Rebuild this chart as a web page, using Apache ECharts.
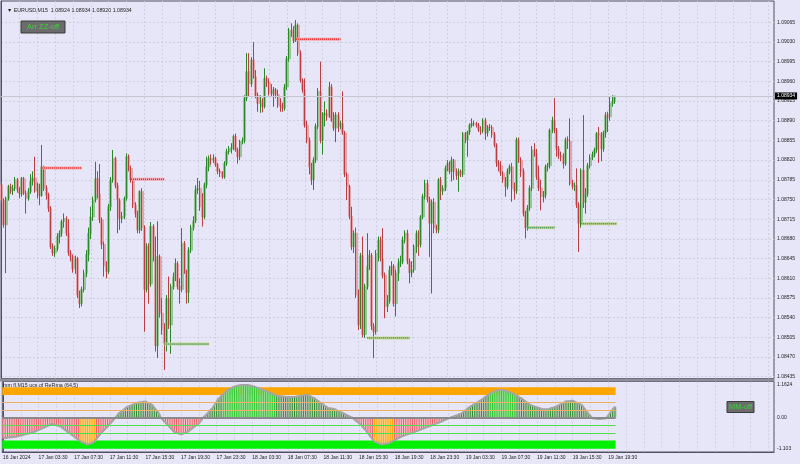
<!DOCTYPE html>
<html><head><meta charset="utf-8">
<script src="https://cdn.jsdelivr.net/npm/echarts@6/dist/echarts.min.js"></script>
<style>html,body{margin:0;padding:0;background:#e6e6f8}#c{width:800px;height:464px}</style>
</head><body><div id="c"></div><script>
// prices stored in points (0.00001) above BASE; rows = [open, high, low, close]
const BASE = 1.08;
const ohlcPts = [
[776,780,745,749],[749,752,700,705],[705,755,619,752],[752,776,748,773],[773,778,760,765],[765,776,758,770],[770,790,765,785],[785,788,762,767],[767,772,752,760],[760,790,755,787],
[787,790,758,761],[761,766,725,752],[752,770,748,764],[764,795,760,782],[782,800,775,788],[788,826,762,765],[765,780,752,776],[776,778,740,757],[757,847,755,808],[808,810,765,770],
[770,775,750,758],[758,762,728,734],[734,738,662,666],[666,672,650,655],[655,668,648,663],[663,690,658,684],[684,695,672,690],[690,714,684,711],[711,725,700,716],[716,720,685,690],
[690,715,650,655],[655,660,640,648],[648,652,620,627],[627,650,618,645],[645,648,575,580],[580,588,557,565],[565,595,560,590],[590,625,585,619],[619,660,612,652],[652,700,640,690],
[690,737,680,719],[719,755,712,749],[749,817,745,787],[787,800,752,760],[760,813,708,714],[714,718,662,670],[670,675,613,632],[632,640,610,622],[622,742,618,737],[737,790,730,785],
[785,838,780,823],[823,826,770,775],[775,780,690,749],[749,752,696,716],[716,728,708,720],[720,755,715,752],[752,832,748,826],[826,830,800,805],[805,810,780,785],[785,788,735,740],
[740,745,718,725],[725,730,690,696],[696,766,690,764],[764,770,694,700],[700,704,515,590],[590,672,585,666],[666,672,565,600],[600,710,595,702],[702,706,640,648],[648,684,480,490],
[490,711,468,648],[648,652,540,548],[548,575,510,520],[520,530,447,494],[494,580,480,574],[574,613,520,527],[527,600,476,595],[595,620,590,612],[612,645,605,636],[636,640,590,595],
[595,610,565,590],[590,699,585,672],[672,676,618,622],[622,625,565,585],[585,665,566,660],[660,705,655,700],[700,720,695,712],[712,775,708,767],[767,788,760,770],[770,783,730,737],
[737,761,702,719],[719,780,715,776],[776,826,770,808],[808,828,800,823],[823,830,812,820],[820,830,815,823],[823,826,808,812],[812,815,795,800],[800,805,790,797],[797,800,787,790],
[790,818,787,814],[814,840,810,835],[835,845,830,840],[840,850,832,842],[842,865,838,862],[862,867,835,838],[838,842,814,826],[826,856,820,853],[853,860,848,855],[855,935,850,930],
[930,1010,925,977],[977,1010,933,956],[956,1003,950,998],[998,1030,965,968],[968,980,930,935],[935,940,906,921],[921,935,904,925],[925,930,905,915],[915,983,912,965],[965,970,950,958],
[958,965,935,940],[940,955,932,938],[938,950,915,945],[945,948,930,936],[936,945,913,918],[918,930,906,915],[915,922,906,912],[912,955,908,950],[950,1005,945,1000],[1000,1055,995,1051],
[1051,1063,1039,1050],[1050,1058,1028,1032],[1032,1069,1030,1060],[1060,1063,1005,1010],[1010,1015,958,962],[962,965,940,945],[945,965,878,882],[882,890,850,855],[855,860,795,808],[808,815,776,785],
[785,825,767,820],[820,885,815,880],[880,948,875,942],[942,995,850,855],[855,905,830,900],[900,924,880,903],[903,910,890,898],[898,959,895,950],[950,955,888,891],[891,905,872,877],
[877,905,852,900],[900,905,870,880],[880,890,875,885],[885,942,865,868],[868,872,790,795],[795,798,749,773],[773,776,715,720],[720,737,660,666],[666,695,655,690],[690,700,575,580],
[580,590,518,527],[527,655,520,650],[650,684,505,510],[510,600,504,595],[595,690,590,631],[631,660,625,651],[651,655,518,525],[525,530,468,515],[515,660,510,654],[654,684,640,678],
[678,684,640,645],[645,699,610,615],[615,620,539,560],[560,580,550,570],[570,632,565,625],[625,640,615,631],[631,635,560,565],[565,625,542,619],[619,645,605,637],[637,650,630,640],
[640,684,635,678],[678,695,672,690],[690,696,635,640],[640,645,601,620],[620,640,612,625],[625,670,620,666],[666,695,655,690],[690,695,650,670],[670,722,665,719],[719,760,715,755],
[755,785,750,778],[778,785,745,750],[750,755,648,708],[708,750,583,745],[745,752,690,700],[700,705,690,696],[696,788,690,785],[785,790,749,765],[765,775,758,770],[770,810,765,805],
[805,820,800,814],[814,818,795,800],[800,826,782,820],[820,822,785,800],[800,805,785,793],[793,805,764,800],[800,803,790,795],[795,870,790,867],[867,870,850,856],[856,872,826,870],
[870,885,865,882],[882,894,878,885],[885,890,880,884],[884,888,878,882],[882,886,870,874],[874,880,865,872],[872,894,868,891],[891,895,856,868],[868,882,862,879],[879,884,872,878],
[878,882,860,865],[865,870,843,847],[847,850,808,815],[815,820,800,810],[810,818,792,797],[797,800,780,785],[785,790,755,773],[773,805,768,800],[800,812,795,808],[808,815,746,770],
[770,780,750,765],[765,860,760,856],[856,860,815,820],[820,825,790,800],[800,805,720,725],[725,730,681,700],[700,740,695,735],[735,775,730,770],[770,845,765,838],[838,850,826,832],
[832,840,785,790],[790,810,765,770],[770,785,731,755],[755,765,745,758],[758,812,752,808],[808,815,800,810],[810,876,805,873],[873,897,868,891],[891,930,868,873],[873,877,826,840],
[840,845,822,828],[828,835,818,826],[826,832,805,814],[814,860,810,856],[856,862,840,854],[854,894,775,779],[779,785,768,773],[773,780,765,775],[775,805,735,740],[740,745,657,708],
[708,805,700,802],[802,900,735,745],[745,770,725,760],[760,815,755,810],[810,830,805,825],[825,835,820,830],[830,842,825,838],[838,870,833,867],[867,879,815,865],[865,870,818,840],
[840,872,835,868],[868,905,860,900],[900,906,870,897],[897,933,890,921],[921,935,915,924],[924,934,920,934]
];
const lastClose = 1.08934;

// oscillator values, one per bar
const indicator = [
-0.73,-0.72,-0.71,-0.70,-0.69,-0.68,-0.67,-0.65,-0.63,-0.61,-0.59,-0.57,-0.55,-0.53,-0.50,
-0.47,-0.43,-0.40,-0.36,-0.33,-0.29,-0.26,-0.22,-0.23,-0.26,-0.29,-0.32,-0.38,-0.44,-0.50,-0.55,-0.61,
-0.67,-0.73,-0.79,-0.85,-0.88,-0.91,-0.94,-0.92,-0.89,-0.85,-0.75,-0.65,-0.55,-0.47,-0.39,-0.31,-0.22,-0.14,
-0.04,0.05,0.15,0.21,0.27,0.33,0.39,0.42,0.45,0.48,0.51,0.54,0.55,0.56,0.57,0.53,0.49,0.45,
0.35,0.25,0.15,0.00,-0.09,-0.17,-0.26,-0.34,-0.42,-0.50,-0.53,-0.56,-0.59,-0.56,-0.53,-0.50,
-0.44,-0.38,-0.32,-0.26,-0.20,-0.10,0.00,0.08,0.16,0.25,0.33,0.45,0.56,0.68,0.76,0.83,0.91,0.98,
1.02,1.06,1.10,1.12,1.14,1.16,1.16,1.16,1.16,1.14,1.12,1.10,1.07,1.04,1.01,0.98,0.95,0.92,
0.88,0.85,0.81,0.78,0.77,0.76,0.75,0.74,0.73,0.73,0.73,0.73,0.75,0.76,0.78,0.79,0.80,0.80,
0.76,0.72,0.68,0.62,0.57,0.51,0.46,0.40,0.35,0.33,0.32,0.30,0.26,0.22,0.19,0.15,0.11,0.07,0.03,0.00,
-0.07,-0.13,-0.20,-0.26,-0.36,-0.45,-0.55,-0.65,-0.75,-0.85,-0.88,-0.91,-0.94,-0.93,-0.92,-0.91,
-0.87,-0.83,-0.79,-0.75,-0.71,-0.67,-0.64,-0.61,-0.58,-0.56,-0.53,-0.50,-0.47,-0.44,-0.41,-0.38,-0.35,-0.32,
-0.29,-0.26,-0.23,-0.20,-0.17,-0.14,-0.10,-0.07,-0.03,0.00,0.03,0.06,0.09,0.12,0.15,
0.21,0.27,0.33,0.39,0.44,0.49,0.53,0.58,0.63,0.69,0.75,0.80,0.86,0.89,0.93,0.96,0.97,0.98,
0.97,0.95,0.92,0.90,0.86,0.81,0.77,0.72,0.68,0.62,0.56,0.51,0.45,0.42,0.39,0.36,0.34,0.31,
0.30,0.30,0.30,0.33,0.35,0.38,0.41,0.45,0.49,0.53,0.57,0.58,0.59,0.60,0.56,0.52,0.49,0.45,
0.35,0.25,0.15,0.06,-0.02,-0.03,-0.04,-0.05,-0.04,-0.03,-0.02,0.08,0.19,0.29,0.39
];

// zigzag markers: [fromBar, toBar, pricePts]
const zzHigh = [[18,36,806],[58,73,786],[132,152,1035]];
const zzLow  = [[73,93,493],[164,183,504],[236,248,700],[260,276,707]];

// oscillator levels
const bandTop = [0.80, 1.08];
const bandBottom = [-1.10, -0.81];
const upperLines = [0.545, 0.26];
const lowerLines = [-0.28, -0.55];

// tick labels
const xTickIdx = [0,16,32,48,64,80,96,112,128,144,160,176,192,208,224,240,256,272];
const xTickLabels = ['16 Jan 2024','17 Jan 03:30','17 Jan 07:30','17 Jan 11:30','17 Jan 15:30','17 Jan 19:30','17 Jan 23:30','18 Jan 03:30','18 Jan 07:30','18 Jan 11:30','18 Jan 15:30','18 Jan 19:30','18 Jan 23:30','19 Jan 03:30','19 Jan 07:30','19 Jan 11:30','19 Jan 15:30','19 Jan 19:30'];
const yTickPrices = [1.08435,1.08470,1.08505,1.08540,1.08575,1.08610,1.08645,1.08680,1.08715,1.08750,1.08785,1.08820,1.08855,1.08890,1.08925,1.08960,1.08995,1.09030,1.09065];
const indTickValues = [1.1624, 0, -1.103];
const indTickLabels = ['1.1624', '0.00', '-1.103'];

const gridTicks = [];
for (let k = 0; k <= 43; k++) gridTicks.push(8 * k);

const XMIN = -0.314, XMAX = 346.48;
const LAST = ohlcPts.length - 1;
const AXIS = '#505060', GRIDC = '#cfcfdf', TXT = '#1e1e1e';
const FONT = 'Liberation Sans';

const candleData = ohlcPts.map((r, i) => [i, BASE + r[0] / 1e5, BASE + r[3] / 1e5, BASE + r[2] / 1e5, BASE + r[1] / 1e5]);

const series = [];
// soft halo layer
series.push({
  type: 'candlestick', xAxisIndex: 0, yAxisIndex: 0, z: 2, silent: true,
  encode: { x: 0, y: [1, 2, 3, 4] }, data: candleData, barWidth: 2.6,
  itemStyle: { color: '#98c498', color0: '#e4a4ac', borderColor: '#98c498', borderColor0: '#e4a4ac', borderWidth: 1 }
});
series.push({
  type: 'candlestick', xAxisIndex: 0, yAxisIndex: 0, z: 3, silent: true,
  encode: { x: 0, y: [1, 2, 3, 4] }, data: candleData, barWidth: 1.2,
  itemStyle: { color: '#0e780e', color0: '#b0242a', borderColor: '#0e780e', borderColor0: '#b0242a', borderWidth: 0.8 }
});
// current price line
series.push({
  type: 'line', xAxisIndex: 0, yAxisIndex: 0, z: 1, data: [], silent: true,
  markLine: {
    silent: true, symbol: 'none', animation: false,
    lineStyle: { color: '#c6c6d0', width: 1, type: 'solid' },
    label: { show: true, position: 'end', formatter: lastClose.toFixed(5), backgroundColor: '#000', color: '#fff', fontSize: 5, fontFamily: FONT, padding: [1, 2, 1, 2], distance: 1 },
    data: [[{ coord: [XMIN, lastClose] }, { coord: [XMAX, lastClose] }]]
  }
});
zzHigh.forEach(z => {
  const d = [[z[0], BASE + z[2] / 1e5], [z[1], BASE + z[2] / 1e5]];
  series.push({ type: 'line', xAxisIndex: 0, yAxisIndex: 0, z: 4, data: d, symbol: 'none', silent: true, lineStyle: { color: '#f4a6b0', width: 3 } });
  series.push({ type: 'line', xAxisIndex: 0, yAxisIndex: 0, z: 5, data: d, symbol: 'none', silent: true, lineStyle: { color: '#e42a2a', width: 1.5, type: [1, 1] } });
});
zzLow.forEach(z => {
  const d = [[z[0], BASE + z[2] / 1e5], [z[1], BASE + z[2] / 1e5]];
  series.push({ type: 'line', xAxisIndex: 0, yAxisIndex: 0, z: 4, data: d, symbol: 'none', silent: true, lineStyle: { color: '#c8d890', width: 3 } });
  series.push({ type: 'line', xAxisIndex: 0, yAxisIndex: 0, z: 5, data: d, symbol: 'none', silent: true, lineStyle: { color: '#2a8a5a', width: 1.5, type: [1, 1] } });
});

// oscillator levels
const xEnd = LAST + 0.3;
series.push({
  type: 'line', xAxisIndex: 1, yAxisIndex: 1, z: 1, data: [], silent: true,
  markArea: { silent: true, data: [
    [{ coord: [XMIN, bandTop[0]], itemStyle: { color: '#ffa500' } }, { coord: [xEnd, bandTop[1]] }],
    [{ coord: [XMIN, bandBottom[0]], itemStyle: { color: '#00f000' } }, { coord: [xEnd, bandBottom[1]] }]
  ] },
  markLine: { silent: true, symbol: 'none', label: { show: false }, data: [
    [{ coord: [XMIN, upperLines[0]], lineStyle: { color: '#f0b060', width: 1, type: 'solid' } }, { coord: [xEnd, upperLines[0]] }],
    [{ coord: [XMIN, upperLines[1]], lineStyle: { color: '#f0b060', width: 1, type: 'solid' } }, { coord: [xEnd, upperLines[1]] }],
    [{ coord: [XMIN, lowerLines[0]], lineStyle: { color: '#50e050', width: 1, type: 'solid' } }, { coord: [xEnd, lowerLines[0]] }],
    [{ coord: [XMIN, lowerLines[1]], lineStyle: { color: '#50e050', width: 1, type: 'solid' } }, { coord: [xEnd, lowerLines[1]] }]
  ] }
});
const lightCol = v => v > 0.8 ? '#90e090' : v >= 0 ? '#c2cac2' : v >= -0.8 ? '#f6c4cc' : '#ffcf80';
const darkCol = v => v > 0.8 ? '#30c830' : v >= 0 ? '#2a8a2a' : v >= -0.8 ? '#e85a66' : '#ffa500';
const indData = indicator.map((v, i) => [i, v]);
series.push({ type: 'bar', xAxisIndex: 1, yAxisIndex: 1, z: 2, data: indData, barWidth: 2.2, barGap: '-100%', silent: true,
  itemStyle: { color: p => lightCol(p.value[1]) } });
series.push({ type: 'bar', xAxisIndex: 1, yAxisIndex: 1, z: 3, data: indData, barWidth: 1, barGap: '-100%', silent: true,
  itemStyle: { color: p => darkCol(p.value[1]) } });
series.push({ type: 'line', xAxisIndex: 1, yAxisIndex: 1, z: 4, data: indData, smooth: true, symbol: 'none', silent: true,
  lineStyle: { color: '#a4a4a4', width: 2 },
  markLine: { silent: true, symbol: 'none', label: { show: false }, data: [
    [{ coord: [XMIN, 0], lineStyle: { color: '#8a8a8a', width: 2, type: 'solid' } }, { coord: [xEnd, 0] }]
  ] } });

const option = {
  animation: false,
  backgroundColor: '#e6e6f8',
  title: { text: '\u25BC EURUSD,M15  1.08924 1.08934 1.08920 1.08934', left: 2, top: 3,
    textStyle: { fontSize: 5.3, fontWeight: 'normal', color: TXT, fontFamily: FONT } },
  grid: [
    { left: 1, right: 26, top: 1, height: 377.5, show: true, borderColor: AXIS, borderWidth: 1, backgroundColor: 'transparent' },
    { left: 1, right: 26, top: 381.5, height: 70.5, show: true, borderColor: AXIS, borderWidth: 1, backgroundColor: 'transparent' }
  ],
  xAxis: [
    { type: 'value', gridIndex: 0, min: XMIN, max: XMAX,
      axisLine: { show: false }, axisTick: { show: false, customValues: gridTicks }, axisLabel: { show: false },
      splitLine: { show: true, lineStyle: { color: GRIDC, type: [2, 2], width: 1 } } },
    { type: 'value', gridIndex: 1, min: XMIN, max: XMAX,
      axisLine: { show: true, onZero: false, lineStyle: { color: AXIS } },
      axisTick: { show: false, customValues: gridTicks },
      axisLabel: { show: true, customValues: xTickIdx, align: 'left', margin: 3, fontSize: 5, color: TXT, fontFamily: FONT,
        formatter: v => { const k = xTickIdx.indexOf(Math.round(v)); return k >= 0 ? xTickLabels[k] : ''; } },
      splitLine: { show: true, lineStyle: { color: GRIDC, type: [2, 2], width: 1 } } }
  ],
  yAxis: [
    { type: 'value', gridIndex: 0, position: 'right', min: 1.084318, max: 1.091028,
      axisLine: { show: true, lineStyle: { color: AXIS } },
      axisTick: { show: false, customValues: yTickPrices },
      axisLabel: { show: true, customValues: yTickPrices, margin: 3, fontSize: 5, color: TXT, fontFamily: FONT, formatter: v => v.toFixed(5) },
      splitLine: { show: true, lineStyle: { color: GRIDC, type: [2, 2], width: 1 } } },
    { type: 'value', gridIndex: 1, position: 'right', min: -1.214, max: 1.28,
      axisLine: { show: true, lineStyle: { color: AXIS } },
      axisTick: { show: false, customValues: indTickValues },
      axisLabel: { show: true, customValues: indTickValues, margin: 3, fontSize: 5, color: TXT, fontFamily: FONT,
        formatter: v => { let k = 0, best = 1e9; indTickValues.forEach((t, j) => { if (Math.abs(t - v) < best) { best = Math.abs(t - v); k = j; } }); return indTickLabels[k]; } },
      splitLine: { show: false } }
  ],
  graphic: [
    { type: 'rect', shape: { x: 0, y: 378.5, width: 774.5, height: 3 }, style: { fill: '#8e8e9a' }, z: 10 },
    { type: 'rect', shape: { x: 21, y: 21, width: 44, height: 12 }, style: { fill: '#6c6c6c', stroke: '#3a3a3a', lineWidth: 1 }, z: 20 },
    { type: 'text', x: 43, y: 27, z: 21, style: { text: 'Arr ZZ-off', fill: '#3cd23c', fontSize: 7.5, fontFamily: FONT, align: 'center', verticalAlign: 'middle' } },
    { type: 'rect', shape: { x: 727, y: 401.5, width: 27, height: 11 }, style: { fill: '#6c6c6c', stroke: '#3a3a3a', lineWidth: 1 }, z: 20 },
    { type: 'text', x: 740.5, y: 407, z: 21, style: { text: 'MM-off', fill: '#3cd23c', fontSize: 7.5, fontFamily: FONT, align: 'center', verticalAlign: 'middle' } },
    { type: 'text', x: 3, y: 386, z: 20, style: { text: 'mm fl.M15 ucs of ReRma (64,5)', fill: TXT, fontSize: 5.3, fontFamily: FONT, verticalAlign: 'middle' } }
  ],
  series: series
};
const chart = echarts.init(document.getElementById('c'), null, { renderer: 'canvas' });
chart.setOption(option);
</script></body></html>
